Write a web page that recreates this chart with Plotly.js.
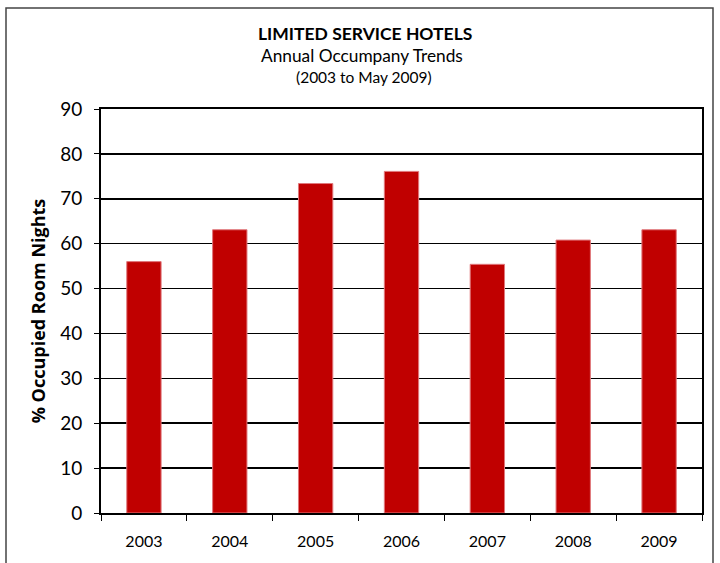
<!DOCTYPE html>
<html>
<head>
<meta charset="utf-8">
<script src="https://cdn.plot.ly/plotly-3.0.1.min.js"></script>
<style>html,body{margin:0;padding:0;background:#fff;}#chart{width:720px;height:563px;}</style>
</head>
<body>
<div id="chart"></div>
<script>
const years = ['2003','2004','2005','2006','2007','2008','2009'];
const occupancy = [56.0, 63.1, 73.4, 76.1, 55.4, 60.8, 63.1];
const yTicks = [0,10,20,30,40,50,60,70,80,90];

const FONT = 'Lato, "Noto Sans", sans-serif';

const trace = {
  type: 'bar',
  x: years,
  y: occupancy,
  width: 0.4,
  marker: {color: '#C00000', line: {color: '#E0787C', width: 1}},
  hoverinfo: 'x+y'
};

const PW = 601, PH = 404, L = 101, T = 109;
function py(pix) { return (T + PH - pix) / PH; }
function px(pix) { return (pix - L) / PW; }

const layout = {
  width: 720, height: 563,
  margin: {l: L, r: 18, t: T, b: 563 - T - PH},
  paper_bgcolor: '#fff', plot_bgcolor: '#fff',
  showlegend: false,
  font: {family: FONT, color: '#000'},
  xaxis: {
    type: 'category',
    showline: true, linecolor: '#000', linewidth: 2, mirror: true,
    ticks: 'outside', tickson: 'boundaries', ticklen: 6, tickcolor: '#000', tickwidth: 1,
    tickfont: {size: 16, family: FONT},
    ticklabelstandoff: 13,
    showgrid: false, zeroline: false
  },
  yaxis: {
    range: [0, 90], tickvals: yTicks,
    showline: true, linecolor: '#000', linewidth: 2, mirror: true,
    ticks: 'outside', ticklen: 5, tickcolor: '#000',
    tickfont: {size: 19, family: FONT},
    ticklabelstandoff: 8,
    showgrid: true, gridcolor: '#000', gridwidth: 1.5,
    zeroline: false,
    title: {text: '<b>% Occupied Room Nights</b>', font: {size: 18, family: '"Open Sans", Lato, sans-serif'}, standoff: 10}
  },
  annotations: [
    {text: '<b>LIMITED SERVICE HOTELS</b>', xref: 'paper', yref: 'paper', x: px(365), y: py(33), showarrow: false, font: {size: 17.5, family: FONT}, xanchor: 'center', yanchor: 'middle'},
    {text: 'Annual Occumpany Trends', xref: 'paper', yref: 'paper', x: px(362), y: py(55), showarrow: false, font: {size: 17.3, family: FONT}, xanchor: 'center', yanchor: 'middle'},
    {text: '(2003 to May 2009)', xref: 'paper', yref: 'paper', x: px(364), y: py(77), showarrow: false, font: {size: 15.5, family: FONT}, xanchor: 'center', yanchor: 'middle'}
  ],
  shapes: [
    {type: 'rect', xref: 'paper', yref: 'paper', x0: px(6), x1: px(713), y0: py(580), y1: py(8), line: {color: '#444', width: 1.5}, fillcolor: 'rgba(0,0,0,0)', layer: 'below'}
  ]
};

Plotly.newPlot('chart', [trace], layout, {displayModeBar: false, staticPlot: true});
</script>
</body>
</html>
